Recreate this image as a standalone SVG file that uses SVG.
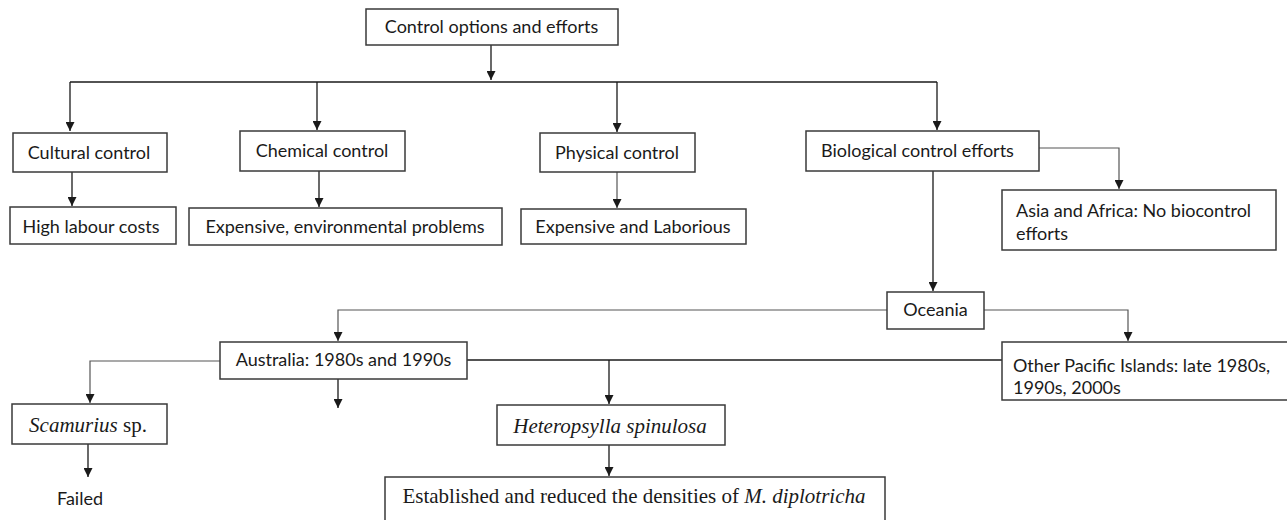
<svg xmlns="http://www.w3.org/2000/svg" width="1287" height="520" viewBox="0 0 1287 520">
<defs>
<marker id="ah" viewBox="0 0 10 10" refX="10" refY="5" markerWidth="10" markerHeight="9" orient="auto" markerUnits="userSpaceOnUse">
<path d="M0,0 L10,5 L0,10 z" fill="#1a1a1a"/>
</marker>
<style>
.box{fill:#fff;stroke:#3a3a3a;stroke-width:1.5}
.t{font-family:Lato,"Open Sans",sans-serif;font-size:18px;fill:#1a1a1a}
.c{text-anchor:middle}
.s{font-family:"Liberation Serif","Times New Roman",serif;font-size:21px;fill:#1a1a1a}
.i{font-style:italic}
.ln{fill:none;stroke:#1a1a1a;stroke-width:1.3}
.lg{fill:none;stroke:#555;stroke-width:1.2}
.a{marker-end:url(#ah)}
</style>
</defs>
<rect width="1287" height="520" fill="#fff"/>
<g id="connectors">
<path class="ln a" d="M491,45 V80"/>
<path class="ln" d="M70,82 H937"/>
<path class="ln a" d="M70,82 V131"/>
<path class="ln a" d="M317,82 V130"/>
<path class="ln a" d="M617,82 V132"/>
<path class="ln a" d="M937,82 V130"/>
<path class="ln a" d="M72,172 V206"/>
<path class="ln a" d="M319,171 V207"/>
<path class="lg a" d="M617,172 V208"/>
<path class="lg a" d="M1039,148 H1119 V189"/>
<path class="ln a" d="M933,171 V291"/>
<path class="lg a" d="M887,310 H338 V341"/>
<path class="lg a" d="M984,310 H1128 V341"/>
<path class="lg a" d="M220,361 H90 V403"/>
<path class="ln" d="M467,360 H1002"/>
<path class="ln a" d="M609,360 V404"/>
<path class="ln a" d="M338,379 V408"/>
<path class="ln a" d="M88,444 V477"/>
<path class="ln a" d="M609,445 V476"/>
</g>
<g id="n-top"><rect class="box" x="366" y="9" width="252" height="36"/><text class="t c" x="491.5" y="33">Control options and efforts</text></g>
<g id="n-cultural"><rect class="box" x="13" y="133" width="154" height="39"/><text class="t c" x="89" y="159">Cultural control</text></g>
<g id="n-chemical"><rect class="box" x="240" y="131" width="165" height="40"/><text class="t c" x="322" y="157">Chemical control</text></g>
<g id="n-physical"><rect class="box" x="540" y="133" width="155" height="39"/><text class="t c" x="617" y="159">Physical control</text></g>
<g id="n-biological"><rect class="box" x="806" y="131" width="233" height="40"/><text class="t c" x="917.5" y="157">Biological control efforts</text></g>
<g id="n-labour"><rect class="box" x="10" y="207" width="166" height="37"/><text class="t c" x="91" y="233">High labour costs</text></g>
<g id="n-chem-res"><rect class="box" x="189" y="208" width="313" height="37"/><text class="t c" x="345" y="233">Expensive, environmental problems</text></g>
<g id="n-phys-res"><rect class="box" x="521" y="209" width="225" height="35"/><text class="t c" x="633" y="233">Expensive and Laborious</text></g>
<g id="n-asia"><rect class="box" x="1002" y="190" width="274" height="60"/><text class="t" x="1016" y="217">Asia and Africa: No biocontrol</text><text class="t" x="1016" y="240">efforts</text></g>
<g id="n-oceania"><rect class="box" x="887" y="292" width="97" height="37"/><text class="t c" x="935.5" y="316">Oceania</text></g>
<g id="n-australia"><rect class="box" x="220" y="342" width="247" height="37"/><text class="t c" x="343.5" y="366">Australia: 1980s and 1990s</text></g>
<g id="n-pacific"><rect class="box" x="1002" y="342" width="300" height="58"/><text class="t" x="1013" y="372">Other Pacific Islands: late 1980s,</text><text class="t" x="1013" y="394">1990s, 2000s</text></g>
<g id="n-scamurius"><rect class="box" x="12" y="404" width="155" height="40"/><text class="s c" x="88" y="432"><tspan class="i">Scamurius</tspan> sp.</text></g>
<g id="n-failed"><text class="t c" x="80" y="505">Failed</text></g>
<g id="n-heteropsylla"><rect class="box" x="497" y="405" width="228" height="40"/><text class="s c i" x="610" y="433">Heteropsylla spinulosa</text></g>
<g id="n-established"><rect class="box" x="385" y="477" width="500" height="60"/><text class="s c" x="634" y="503">Established and reduced the densities of <tspan class="i">M. diplotricha</tspan></text></g>
</svg>
